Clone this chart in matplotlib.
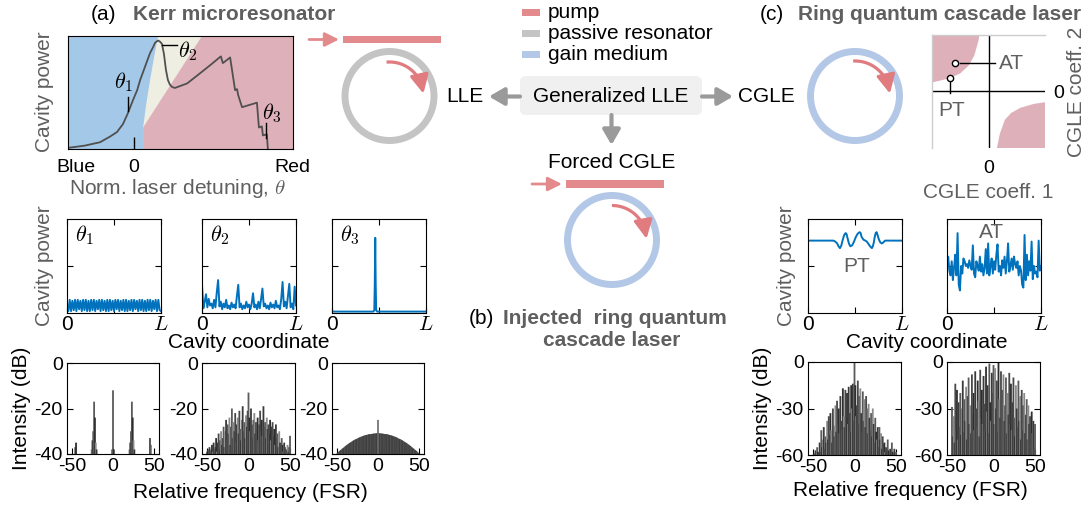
import numpy as np
import matplotlib
matplotlib.use('Agg')
import matplotlib.pyplot as plt
from matplotlib.patches import Rectangle, Circle, FancyBboxPatch

plt.rcParams['font.family'] = ['Liberation Sans', 'DejaVu Sans']
plt.rcParams['mathtext.fontset'] = 'cm'
plt.rcParams['axes.unicode_minus'] = False

# ---------------- data ----------------
# (a) detuning scan (x: normalised detuning, y: cavity power, 0..1)
scan_x = [-2.00, -1.49, -1.03, -0.73, -0.52, -0.34, -0.20, -0.04, 0.09, 0.18, 0.33, 0.48, 0.57, 0.63,
          0.72, 0.78, 0.84, 0.90, 0.96, 1.02, 1.08, 1.14, 1.23, 1.32, 1.60, 1.99, 2.29, 2.62, 2.68,
          2.90, 3.05, 3.11, 3.14, 3.26, 3.71, 3.77, 3.86, 3.89, 4.01, 4.04]
scan_y = [0.01, 0.03, 0.06, 0.11, 0.15, 0.22, 0.31, 0.43, 0.52, 0.61, 0.73, 0.85, 0.90, 0.94,
          0.96, 0.95, 0.93, 0.84, 0.70, 0.61, 0.57, 0.55, 0.54, 0.55, 0.58, 0.67, 0.74, 0.82, 0.76,
          0.81, 0.52, 0.53, 0.48, 0.37, 0.41, 0.19, 0.20, 0.12, 0.13, 0.0]
blue_x = [-2.0, 0.27, 0.27, 0.36, 0.48, 0.60, 0.72, -2.0]
blue_y = [0.0, 0.0, 0.19, 0.39, 0.61, 0.81, 1.0, 1.0]
pink_x = [0.27, 4.8, 4.8, 2.05, 0.27]
pink_y = [0.0, 0.0, 1.0, 1.0, 0.19]

# (a) intracavity waveforms (normalised power)
th1 = [0.08, 0.02, 0.14, 0.02, 0.13, 0.03, 0.14, 0.02, 0.14, 0.04, 0.13, 0.02, 0.14, 0.03, 0.14, 0.02,
       0.13, 0.02, 0.14, 0.03, 0.14, 0.02, 0.13, 0.04, 0.14, 0.02, 0.14, 0.03, 0.13, 0.02, 0.14, 0.02,
       0.14, 0.03, 0.13, 0.02, 0.14, 0.04, 0.14, 0.02, 0.13, 0.03, 0.14, 0.02, 0.14, 0.02, 0.13, 0.03,
       0.14, 0.02, 0.14, 0.04, 0.13, 0.02, 0.14, 0.03, 0.14, 0.02, 0.13, 0.02, 0.14, 0.03, 0.14, 0.02,
       0.13, 0.04, 0.14, 0.02, 0.14, 0.03, 0.02]
th2 = [0.30, 0.05, 0.12, 0.20, 0.06, 0.15, 0.08, 0.10, 0.05, 0.14, 0.06, 0.22, 0.35, 0.07, 0.12, 0.04,
       0.10, 0.06, 0.14, 0.05, 0.08, 0.04, 0.11, 0.06, 0.09, 0.05, 0.18, 0.30, 0.06, 0.10, 0.04, 0.08,
       0.05, 0.12, 0.06, 0.09, 0.04, 0.10, 0.21, 0.06, 0.09, 0.04, 0.12, 0.05, 0.15, 0.26, 0.07, 0.10,
       0.05, 0.08, 0.04, 0.11, 0.06, 0.09, 0.05, 0.13, 0.06, 0.08, 0.04, 0.15, 0.33, 0.07, 0.12, 0.05,
       0.18, 0.31, 0.06, 0.10, 0.04, 0.28, 0.08]
th3_x = [0.0, 0.44, 0.45, 0.455, 0.46, 0.465, 0.47, 0.48, 1.0]
th3_y = [0.015, 0.015, 0.03, 0.30, 0.80, 0.30, 0.03, 0.015, 0.015]

# (c) intracavity waveforms
pt_x = [0.0, 0.27, 0.29, 0.31, 0.325, 0.34, 0.355, 0.37, 0.385, 0.40, 0.41, 0.42, 0.435, 0.45,
        0.47, 0.49, 0.505, 0.52, 0.535, 0.55, 0.56, 0.57, 0.59, 0.61, 0.625, 0.64, 0.66, 0.68,
        0.69, 0.70, 0.71, 0.72, 0.73, 0.74, 0.755, 0.77, 0.785, 0.80, 0.82, 1.0]
pt_y = [0.77, 0.77, 0.76, 0.74, 0.71, 0.69, 0.72, 0.78, 0.83, 0.85, 0.84, 0.80, 0.74, 0.71,
        0.72, 0.76, 0.80, 0.83, 0.85, 0.86, 0.85, 0.81, 0.78, 0.77, 0.76, 0.74, 0.71, 0.69,
        0.71, 0.75, 0.81, 0.85, 0.86, 0.83, 0.78, 0.75, 0.74, 0.75, 0.77, 0.77]
at_y = [0.52, 0.60, 0.45, 0.40, 0.55, 0.35, 0.48, 0.62, 0.40, 0.85, 0.30, 0.24, 0.50, 0.42, 0.58,
        0.55, 0.50, 0.52, 0.48, 0.56, 0.50, 0.46, 0.72, 0.42, 0.38, 0.55, 0.50, 0.45, 0.60, 0.44,
        0.52, 0.40, 0.48, 0.68, 0.42, 0.74, 0.40, 0.50, 0.58, 0.42, 0.55, 0.46, 0.62, 0.73, 0.44,
        0.50, 0.40, 0.56, 0.48, 0.60, 0.42, 0.55, 0.74, 0.44, 0.50, 0.58, 0.46, 0.60, 0.52, 0.48,
        0.55, 0.40, 0.50, 0.45, 0.30, 0.27, 0.83, 0.35, 0.62, 0.40, 0.55, 0.45, 0.76, 0.36, 0.50,
        0.42, 0.44, 0.38, 0.77, 0.45, 0.50]

# spectra (dB), modes -50..50
modes = np.arange(-50, 51)
a1_modes = [-46, -45, -26, -25, -24, -23, -22, -21, -20, -1, 0, 1, 20, 21, 22, 23, 24, 25, 26, 45, 46]
a1_vals = [-37, -35, -38, -34, -30, -17, -24, -35, -38, -38, -12, -38, -38, -35, -30, -17, -24, -34,
           -38, -33, -36]
a2_vals = [-39, -38, -40, -37, -39, -38, -36, -39, -35, -38,
           -37, -33, -39, -35, -31, -38, -34, -30, -36, -33,
           -28, -37, -30, -25, -34, -27, -31, -24, -36, -28,
           -20, -33, -26, -30, -22, -35, -27, -24, -31, -21,
           -29, -34, -25, -19, -30, -26, -33, -23, -28, -21,
           -13,
           -24, -30, -20, -27, -33, -25, -22, -31, -26, -29,
           -24, -34, -27, -21, -30, -25, -32, -19, -28, -26,
           -33, -24, -29, -27, -31, -25, -34, -28, -26, -32,
           -29, -36, -27, -33, -31, -37, -30, -35, -38, -33,
           -36, -39, -35, -37, -40, -38, -36, -39, -37, -32]
a3_half = [-31.0, -31.0, -31.0, -31.0, -31.1, -31.1, -31.1, -31.2, -31.2, -31.3,
           -31.4, -31.4, -31.5, -31.6, -31.7, -31.8, -31.9, -32.0, -32.2, -32.3,
           -32.4, -32.6, -32.7, -32.9, -33.1, -33.3, -33.4, -33.6, -33.8, -34.0,
           -34.2, -34.5, -34.7, -34.9, -35.2, -35.4, -35.7, -35.9, -36.2, -36.5,
           -36.8, -37.1, -37.4, -37.7, -38.0, -38.3, -38.6, -38.9, -39.3, -39.6,
           -40.0]
a3_pump = -25
c1_vals = [-60, -59, -60, -57, -60, -55, -58, -60, -52, -58,
           -44, -55, -50, -42, -56, -48, -52, -38, -50, -35,
           -47, -33, -44, -52, -30, -41, -48, -28, -45, -25,
           -40, -30, -46, -22, -38, -44, -17, -35, -42, -18,
           -36, -20, -40, -16, -33, -45, -15, -30, -14, -38,
           0,
           -15, -35, -28, -12, -40, -22, -17, -33, -45, -19,
           -38, -24, -42, -22, -30, -46, -27, -36, -44, -33,
           -48, -30, -40, -52, -36, -45, -50, -42, -55, -42,
           -50, -46, -56, -48, -53, -52, -58, -55, -60, -50,
           -57, -60, -56, -60, -52, -58, -60, -56, -60, -58]
c2_vals = [-29, -48, -35, -52, -14, -44, -18, -50, -26, -42,
           -20, -47, -30, -12, -45, -24, -38, -16, -50, -22,
           -10, -40, -28, -46, -8, -34, -20, -44, -6, -30,
           -42, -12, -25, -48, -5, -36, -18, -40, -9, -27,
           -44, -3, -32, -15, -46, -1, -26, -38, -7, -20,
           -2,
           -40, -4, -30, -12, -45, 0, -24, -36, -6, -42,
           -18, -8, -38, -28, -10, -46, -20, -34, -7, -40,
           -14, -44, -26, -10, -36, -48, -15, -30, -42, -12,
           -38, -22, -50, -18, -44, -28, -20, -46, -34, -24,
           -50, -28, -40, -35, -52, -32, -46, -38, -55, -40]

# (c) phase diagram regions
ul_x = [-1.0, -1.0, -0.7, -0.5, -0.35, -0.25, -0.18, -0.16]
ul_y = [1.0, 0.16, 0.23, 0.32, 0.46, 0.64, 0.89, 1.0]
lr_x = [0.15, 0.20, 0.29, 0.40, 0.56, 0.80, 1.0, 1.0]
lr_y = [-1.0, -0.75, -0.50, -0.38, -0.29, -0.22, -0.19, -1.0]
at_pt = (-0.59, 0.50)
pt_pt = (-0.68, 0.24)

# ---------------- style ----------------
W, H = 1090, 508
GRAYTXT = '#5f5f5f'
PUMP = '#e38a8c'
ARC = '#e07b80'
PASSIVE = '#c4c4c4'
GAIN = '#b3c7e6'
LINE = '#0072bd'
BARS = ['#5a5a5a', '#2e2e2e', '#8a8a8a', '#3a3a3a', '#484848']
DOME = ['#4a4a4a', '#3c3c3c', '#555555', '#424242']

fig = plt.figure(figsize=(W / 100, H / 100), dpi=100)


def R(x, y, w, h):
    return [x / W, 1 - (y + h) / H, w / W, h / H]


ov = fig.add_axes([0, 0, 1, 1])
ov.set_xlim(0, W)
ov.set_ylim(H, 0)
ov.axis('off')


def T(x, y, s, size=15, color='black', ha='center', va='center', **kw):
    ov.text(x, y, s, fontsize=size, color=color, ha=ha, va=va, **kw)


def arc_arrow(cx, cy, r, a0, a1):
    ang = np.radians(np.linspace(a0, a1, 60))
    xs = cx + r * np.cos(ang)
    ys = cy - r * np.sin(ang)
    ov.plot(xs[:-8], ys[:-8], color=ARC, lw=2.3, solid_capstyle='butt')
    ov.annotate('', xy=(xs[-1], ys[-1]), xytext=(xs[-12], ys[-12]),
                arrowprops=dict(arrowstyle='-|>,head_length=0.7,head_width=0.35', color=ARC,
                                lw=2.3, shrinkA=0, shrinkB=0, mutation_scale=16))


def small_arrow(x0, x1, y):
    ov.annotate('', xy=(x1, y), xytext=(x0, y),
                arrowprops=dict(arrowstyle='-|>,head_length=0.6,head_width=0.3', color=PUMP,
                                lw=2, shrinkA=0, shrinkB=0, mutation_scale=14))


def gray_arrow(p0, p1):
    ov.annotate('', xy=p1, xytext=p0,
                arrowprops=dict(arrowstyle='-|>,head_length=0.6,head_width=0.35', color='#9a9a9a',
                                lw=3, shrinkA=0, shrinkB=0, mutation_scale=15))


# titles
T(103, 15, '(a)')
T(133, 15, 'Kerr microresonator', color=GRAYTXT, ha='left', fontweight='bold')
T(772, 15, '(c)')
T(798, 15, 'Ring quantum cascade laser', color=GRAYTXT, ha='left', fontweight='bold')
T(481, 318, '(b)')
T(503, 318, 'Injected  ring quantum', color=GRAYTXT, ha='left', fontweight='bold')
T(612, 340, 'cascade laser', color=GRAYTXT, fontweight='bold')

# legend
for yy, col, lab in [(12.5, PUMP, 'pump'), (33.5, PASSIVE, 'passive resonator'), (54.5, GAIN, 'gain medium')]:
    ov.add_patch(Rectangle((522, yy - 3.5), 18, 7, color=col, lw=0))
    T(548, yy, lab, ha='left')

# Kerr ring
ov.add_patch(Rectangle((343, 36), 98, 7, color=PUMP, lw=0))
small_arrow(309, 339, 39.5)
ov.add_patch(Circle((389.5, 96), 44.5, fill=False, ec=PASSIVE, lw=5))
arc_arrow(389.5, 96, 34, 95, 4)

# injected QCL ring
ov.add_patch(Rectangle((566, 180), 98, 8, color=PUMP, lw=0))
small_arrow(532, 562, 184)
ov.add_patch(Circle((612, 240), 44.5, fill=False, ec=GAIN, lw=5))
arc_arrow(612, 240, 34.5, 90, 2)

# QCL ring
ov.add_patch(Circle((855, 96), 44.5, fill=False, ec=GAIN, lw=5))
arc_arrow(855, 96, 35, 93, 4)

# central scheme
ov.add_patch(FancyBboxPatch((524, 80), 174, 31, boxstyle='round,pad=4,rounding_size=6',
                            fc='#f0f0f0', ec='none'))
T(611, 96.5, 'Generalized LLE')
gray_arrow((520, 96.5), (489, 96.5))
gray_arrow((702, 96.5), (733, 96.5))
gray_arrow((611.5, 115), (611.5, 145))
T(465, 97, 'LLE')
T(766, 97, 'CGLE')
T(612, 162, 'Forced CGLE')

# ---- (a) top: detuning scan ----
ax = fig.add_axes(R(68, 36, 225, 113))
ax.fill([-2, 4.8, 4.8, -2], [0, 0, 1, 1], color='#eeeee2', lw=0)
ax.fill(blue_x, blue_y, color='#a4c8e8', lw=0)
ax.fill(pink_x, pink_y, color='#deb0ba', lw=0)
ax.plot(scan_x, scan_y, color='#505050', lw=1.3)
ax.set_xlim(-2, 4.8)
ax.set_ylim(0, 1)
ax.set_xticks([0])
ax.set_yticks([])
ax.tick_params(axis='x', direction='in', length=9, width=1, labelbottom=False)
for s in ax.spines.values():
    s.set_linewidth(0.8)
ax.plot([-0.20, -0.20], [0.34, 0.46], color='black', lw=1)
ax.text(-0.31, 0.59, r'$\theta_1$', fontsize=16, ha='center', va='center')
ax.plot([0.84, 1.29], [0.92, 0.92], color='black', lw=1)
ax.text(1.63, 0.87, r'$\theta_2$', fontsize=16, ha='center', va='center')
ax.plot([3.97, 3.97], [0.10, 0.23], color='black', lw=1)
ax.text(4.17, 0.32, r'$\theta_3$', fontsize=16, ha='center', va='center')
T(76, 167, 'Blue', size=14)
T(134, 167, '0', size=14)
T(292, 167, 'Red', size=14)
T(45, 92, 'Cavity power', color=GRAYTXT, rotation=90)
T(177, 189, r'Norm. laser detuning, $\theta$', color=GRAYTXT)


# ---- waveform axes ----
def wave_ax(x, y, xs, ys):
    a = fig.add_axes(R(x, y, 94, 94))
    a.plot(xs, ys, color=LINE, lw=1.4)
    a.set_xlim(0, 1)
    a.set_ylim(0, 1)
    a.set_xticks([0, 0.5, 1])
    a.set_xticklabels(['0', '', '$L$'])
    a.set_yticks([0.5])
    a.set_yticklabels([''])
    a.tick_params(direction='in', top=True, right=True, length=4, width=0.8, labelsize=15, pad=1.5)
    for s in a.spines.values():
        s.set_linewidth(0.8)
    return a


a = wave_ax(67, 219, np.linspace(0, 1, len(th1)), th1)
a.text(0.08, 0.83, r'$\theta_1$', fontsize=16, transform=a.transAxes, va='center')
a = wave_ax(202, 219, np.linspace(0, 1, len(th2)), th2)
a.text(0.08, 0.83, r'$\theta_2$', fontsize=16, transform=a.transAxes, va='center')
a = wave_ax(332, 219, th3_x, th3_y)
a.text(0.08, 0.83, r'$\theta_3$', fontsize=16, transform=a.transAxes, va='center')
a = wave_ax(808, 219, pt_x, pt_y)
a.text(0.52, 0.50, 'PT', fontsize=15, color=GRAYTXT, transform=a.transAxes, ha='center', va='center')
a = wave_ax(947, 219, np.linspace(0, 1, len(at_y)), at_y)
a.text(0.47, 0.86, 'AT', fontsize=15, color=GRAYTXT, transform=a.transAxes, ha='center', va='center')
T(45, 266, 'Cavity power', color=GRAYTXT, rotation=90)
T(787, 266, 'Cavity power', color=GRAYTXT, rotation=90)
T(249, 343, 'Cavity coordinate')
T(927, 343, 'Cavity coordinate')


# ---- spectra ----
def spec_ax(x, y, w, h, m, v, ylim, yt, lw=1.3, pal=BARS):
    s = fig.add_axes(R(x, y, w, h))
    cols = [pal[i % len(pal)] for i in range(len(m))]
    s.vlines(m, ylim[0], v, colors=cols, lw=lw, snap=False, capstyle='butt')
    s.set_xlim(-56, 56)
    s.set_ylim(*ylim)
    s.set_xticks([-50, 0, 50])
    s.set_yticks(yt)
    s.tick_params(direction='in', right=True, length=4, width=0.8, labelsize=14, pad=3)
    for sp in s.spines.values():
        sp.set_linewidth(0.8)
        sp.set_zorder(5)
    return s


spec_ax(67, 363, 92, 91, a1_modes, a1_vals, (-40, 0), [0, -20, -40], lw=1.3)
spec_ax(202, 363, 93, 91, modes, a2_vals, (-40, 0), [0, -20, -40], lw=1.3)
a3_vals = a3_half[:0:-1] + a3_half
s3 = spec_ax(332, 363, 92, 91, modes, a3_vals, (-40, 0), [0, -20, -40], lw=1.6, pal=DOME)
s3.vlines([0], -40, [a3_pump], colors='#6a6a6a', lw=1.2, snap=False)
spec_ax(808, 362, 93, 93, modes, c1_vals, (-60, 0), [0, -30, -60], lw=1.3)
spec_ax(947, 362, 93, 93, modes, c2_vals, (-60, 0), [0, -30, -60], lw=1.3)
T(22, 408, 'Intensity (dB)', rotation=90)
T(762, 408, 'Intensity (dB)', rotation=90)
T(250, 493, 'Relative frequency (FSR)')
T(910, 491, 'Relative frequency (FSR)')

# ---- (c) phase diagram ----
pd = fig.add_axes(R(932, 35, 113, 113))
pd.fill(ul_x + [-1.0], ul_y + [1.0], color='#deb0ba', lw=0)
pd.fill(lr_x, lr_y, color='#deb0ba', lw=0)
pd.axhline(0, color='black', lw=1)
pd.axvline(0, color='black', lw=1)
pd.set_xlim(-1, 1)
pd.set_ylim(-1, 1)
pd.set_xticks([0])
pd.set_yticks([0])
pd.yaxis.tick_right()
pd.tick_params(length=0, labelsize=14)
pd.tick_params(axis='x', pad=9)
pd.tick_params(axis='y', pad=6)
for k in ['right', 'bottom']:
    pd.spines[k].set_visible(False)
for k in ['top', 'left']:
    pd.spines[k].set_color('#cccccc')
    pd.spines[k].set_linewidth(1)
pd.plot([at_pt[0] + 0.08, 0.12], [at_pt[1], at_pt[1]], color='black', lw=1)
pd.plot([pt_pt[0], pt_pt[0]], [pt_pt[1] - 0.06, -0.03], color='black', lw=1)
pd.plot([at_pt[0], pt_pt[0]], [at_pt[1], pt_pt[1]], 'o', ms=4.5, mfc='white', mec='black', mew=1,
        clip_on=False)
pd.text(0.19, at_pt[1], 'AT', fontsize=15, color=GRAYTXT, va='center', ha='left')
pd.text(-0.66, -0.33, 'PT', fontsize=15, color=GRAYTXT, va='center', ha='center')
T(1077, 92, 'CGLE coeff. 2', color=GRAYTXT, rotation=90)
T(988, 193, 'CGLE coeff. 1', color=GRAYTXT)

fig.savefig('out.png', dpi=100)
